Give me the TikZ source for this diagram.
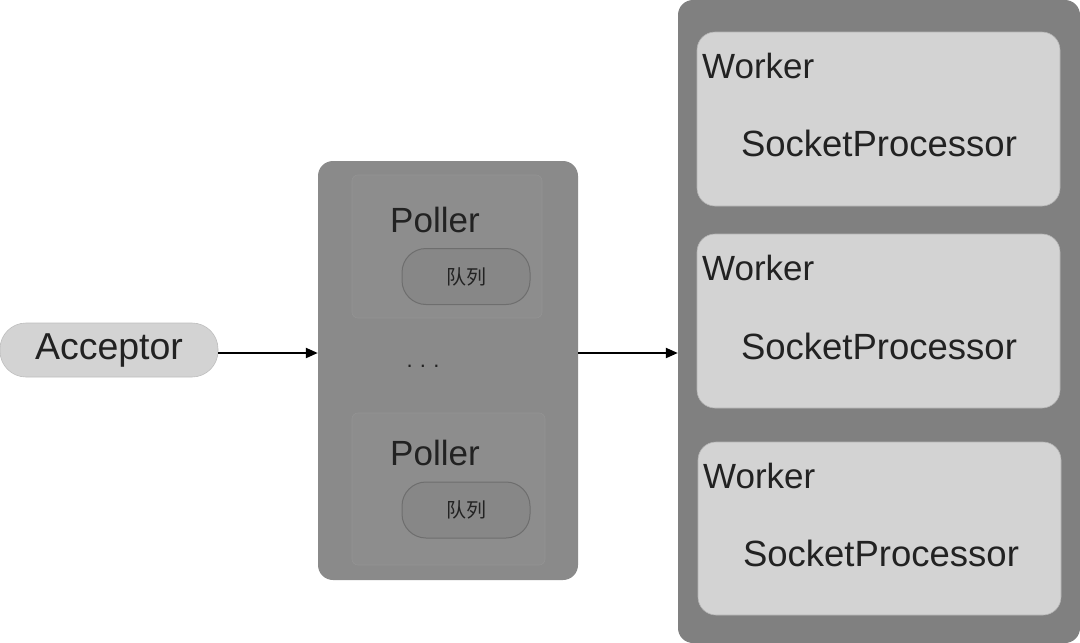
\documentclass[tikz,border=0pt]{standalone}
\usepackage{fontspec}
\setmainfont{Liberation Sans}
\newfontfamily\cjk{Noto Sans CJK SC}
\usetikzlibrary{arrows.meta}
\definecolor{outerA}{HTML}{808080}
\definecolor{outerB}{HTML}{8A8A8A}
\definecolor{lightbox}{HTML}{D3D3D3}
\definecolor{pollbox}{HTML}{8D8D8D}
\definecolor{pollline}{HTML}{939393}
\definecolor{queuefill}{HTML}{878787}
\definecolor{queueline}{HTML}{6E6E6E}
\definecolor{txt}{HTML}{222222}
\begin{document}
\begin{tikzpicture}[x=1pt,y=-1pt,
  big/.style={font=\fontsize{35}{40}\selectfont, text=txt, inner sep=0pt},
  sp/.style={font=\fontsize{36.5}{40}\selectfont, text=txt, inner sep=0pt},
  accbox/.style={fill=lightbox, draw=lightbox!90!black, line width=0.6pt, rounded corners=26pt, inner sep=0pt, font=\fontsize{37.5}{40}\selectfont, text=txt},
  container/.style={fill=#1, rounded corners=15pt, inner sep=0pt},
  workerbox/.style={fill=lightbox, draw=lightbox!85!black, line width=0.6pt, rounded corners=18pt, inner sep=0pt},
  pollerbox/.style={fill=pollbox, draw=pollline, line width=0.6pt, rounded corners=6pt, inner sep=0pt},
  queue/.style={fill=queuefill, draw=queueline, line width=1pt, rounded corners=24pt, inner sep=0pt, minimum width=128pt, minimum height=56pt, font=\cjk\fontsize{20}{22}\selectfont, text=txt},
  flow/.style={line width=2.2pt, -{Triangle[length=12pt,width=10pt]}}
]
\useasboundingbox (0,0) rectangle (1080,643);
\fill[white] (0,0) rectangle (1080,643);

% Acceptor
\node[accbox, minimum width=218pt, minimum height=54pt] (acc) at (109,350) {\raisebox{-6pt}{Acceptor}};

% Poller container
\node[container=outerB, minimum width=260pt, minimum height=419pt] (pollers) at (448,370.5) {};
\node[pollerbox, minimum width=190pt, minimum height=143pt] (pb1) at (447,246.5) {};
\node[pollerbox, minimum width=193pt, minimum height=152pt] (pb2) at (448.5,489) {};
\node[big, anchor=west] (pl1) at (390,220) {Poller};
\node[big, anchor=west] (pl2) at (390,453) {Poller};
\node[queue] (q1) at (466,276.5) {队列};
\node[queue] (q2) at (466,510) {队列};
\node[font=\fontsize{22}{24}\selectfont, text=txt, inner sep=0pt] (dots) at (423,366) {.\,\,.\,\,.};

% Worker container
\node[container=outerA, minimum width=402pt, minimum height=643pt] (workers) at (879,321.5) {};
\node[workerbox, minimum width=363pt, minimum height=174pt] (w1) at (878.5,119) {};
\node[workerbox, minimum width=363pt, minimum height=174pt] (w2) at (878.5,321) {};
\node[workerbox, minimum width=363pt, minimum height=173pt] (w3) at (879.5,528.5) {};
\node[big, anchor=west] (wl1) at (702,66) {Worker};
\node[big, anchor=west] (wl2) at (702,268) {Worker};
\node[big, anchor=west] (wl3) at (703,476) {Worker};
\node[sp] (sp1) at (879,143) {SocketProcessor};
\node[sp] (sp2) at (879,346) {SocketProcessor};
\node[sp] (sp3) at (881,553) {SocketProcessor};

% Connectors
\draw[flow] ([yshift=-3pt]acc.east) -- ([yshift=-3pt]acc.east -| pollers.west);
\draw[flow] ([yshift=-3pt]acc.east -| pollers.east) -- ([yshift=-3pt]acc.east -| workers.west);
\end{tikzpicture}
\end{document}
